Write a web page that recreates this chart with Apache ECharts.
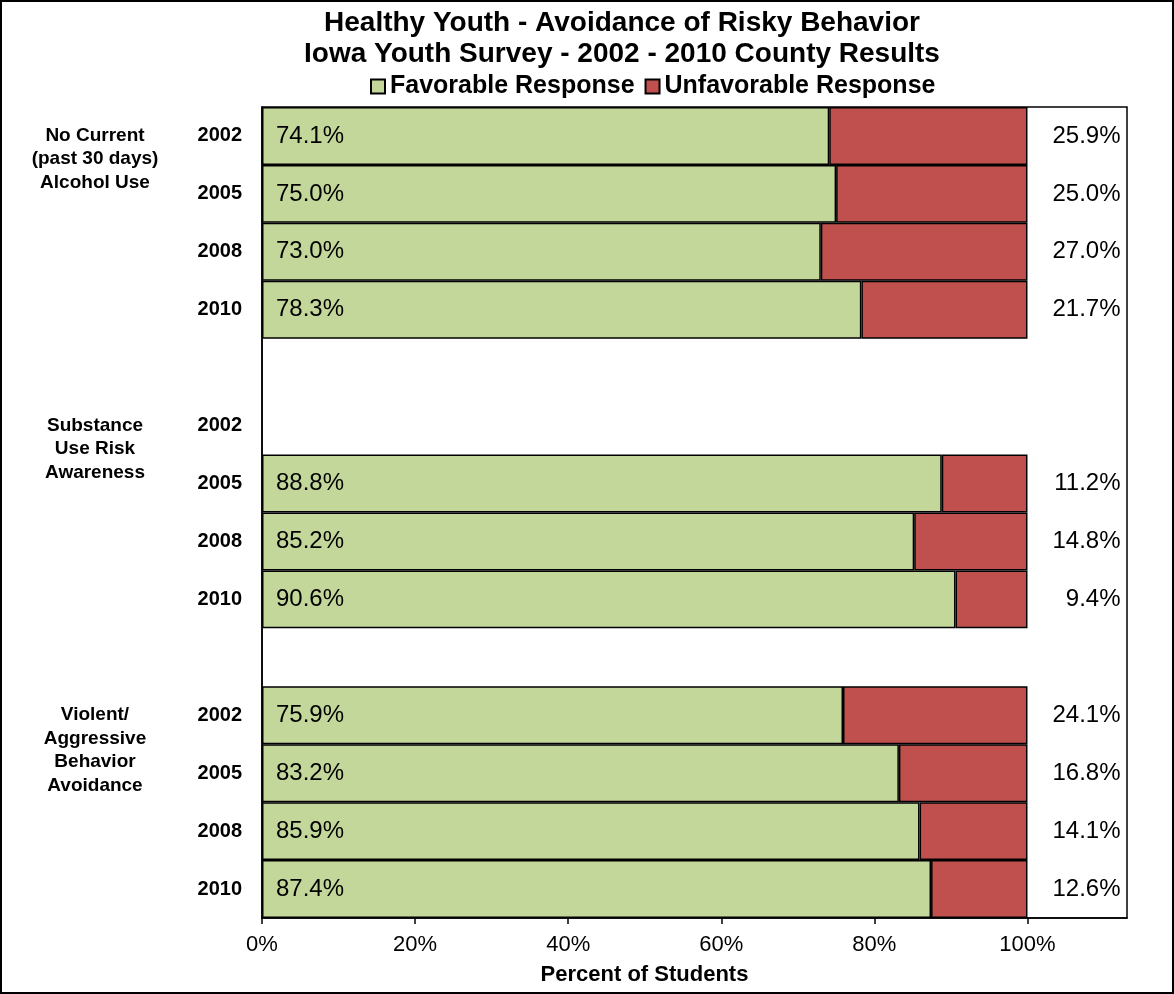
<!DOCTYPE html>
<html><head><meta charset="utf-8">
<script src="https://cdn.jsdelivr.net/npm/echarts@6/dist/echarts.min.js"></script>
<style>html,body{margin:0;padding:0;background:#fff}#c{width:1174px;height:994px}</style>
</head><body><div id="c"></div>
<script>
const titleText = 'Healthy Youth - Avoidance of Risky Behavior\nIowa Youth Survey - 2002 - 2010 County Results';
const years = ['2002','2005','2008','2010','', '2002','2005','2008','2010','', '2002','2005','2008','2010'];
const favorable = [74.1,75.0,73.0,78.3,null, null,88.8,85.2,90.6,null, 75.9,83.2,85.9,87.4];
const unfavorable = [25.9,25.0,27.0,21.7,null, null,11.2,14.8,9.4,null, 24.1,16.8,14.1,12.6];
const groupNames = ['No Current\n(past 30 days)\nAlcohol Use','Substance\nUse Risk\nAwareness','Violent/\nAggressive\nBehavior\nAvoidance'];
const groupFirstRow = [0,5,10];
const xTicks = [0,20,40,60,80,100];
const xAxisTitle = 'Percent of Students';

const F = '"Liberation Sans", Arial, sans-serif';
const chart = echarts.init(document.getElementById('c'));
const option = {
  animation:false,
  backgroundColor:'#fff',
  title:{text:titleText,left:622,textAlign:'center',top:8,padding:0,
    textStyle:{fontFamily:F,fontWeight:'bold',fontSize:28,lineHeight:31,color:'#000'}},
  legend:{left:370,top:74,padding:0,itemWidth:14,itemHeight:14,itemGap:10,
    icon:'rect',textStyle:{fontFamily:F,fontWeight:'bold',fontSize:25,color:'#000'},
    data:['Favorable Response','Unfavorable Response']},
  grid:{left:262,right:47,top:107,bottom:76,show:true,borderColor:'#000',borderWidth:1.5,
    containLabel:false,outerBoundsMode:'none'},
  xAxis:{type:'value',min:0,max:113,interval:20,
    axisLine:{show:true,lineStyle:{color:'#000',width:1.5}},
    axisTick:{show:true,length:6,lineStyle:{color:'#000',width:1.5}},
    splitLine:{show:false},
    axisLabel:{fontFamily:F,fontSize:22,color:'#000',margin:16,showMaxLabel:false,
      formatter:v=>xTicks.indexOf(v)>=0?v+'%':''},
    name:xAxisTitle,nameLocation:'middle',nameGap:46,
    nameTextStyle:{fontFamily:F,fontWeight:'bold',fontSize:22,color:'#000',padding:[0,100,0,0]}},
  yAxis:{type:'category',inverse:true,data:years,
    axisLine:{show:true,lineStyle:{color:'#000',width:1.5}},axisTick:{show:false},
    axisLabel:{fontFamily:F,fontWeight:'bold',fontSize:20,color:'#000',margin:20}},
  series:[
    {name:'Favorable Response',type:'bar',stack:'s',barWidth:'100%',data:favorable,
     itemStyle:{color:'#C4D79B',borderColor:'#000',borderWidth:1.5},
     label:{show:true,position:'insideLeft',distance:14,fontFamily:F,fontSize:24,color:'#000',
       formatter:p=>p.value==null?'':p.value.toFixed(1)+'%'}},
    {name:'Unfavorable Response',type:'bar',stack:'s',barWidth:'100%',data:unfavorable,
     itemStyle:{color:'#C0504D',borderColor:'#000',borderWidth:1.5},
     label:{show:true,position:'right',distance:93,align:'right',fontFamily:F,fontSize:24,color:'#000',
       formatter:p=>p.value==null?'':p.value.toFixed(1)+'%'}}
  ]
};
chart.setOption(option);
const graphics = [{type:'rect',shape:{x:1,y:1,width:1172,height:992},style:{fill:'none',stroke:'#000',lineWidth:2},silent:true}];
groupNames.forEach((g,i)=>{
  const py = chart.convertToPixel({yAxisIndex:0}, groupFirstRow[i]);
  graphics.push({type:'text',x:95,y:py-12,style:{text:g,fontFamily:F,fontWeight:'bold',fontSize:19,lineHeight:23.5,
    fill:'#000',align:'center',verticalAlign:'top'}});
});
chart.setOption({graphic:graphics});
</script></body></html>
